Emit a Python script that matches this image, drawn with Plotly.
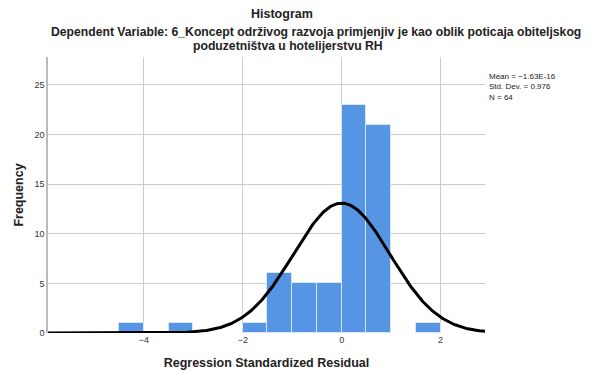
import numpy as np
import plotly.graph_objects as go

# Histogram bins (left edges, width 0.5) and counts
bin_left = [-4.5, -3.5, -2.0, -1.5, -1.0, -0.5, 0.0, 0.5, 1.5]
counts = [1, 1, 1, 6, 5, 5, 23, 21, 1]
bin_width = 0.5

mean_val = -1.63e-16
std_val = 0.976
n_val = 64

x_ticks = [-4, -2, 0, 2]
x_tick_text = ["−4", "−2", "0", "2"]
y_ticks = [0, 5, 10, 15, 20, 25]

centers = [b + bin_width / 2 for b in bin_left]

xs = np.linspace(-6, 3, 400)
ys = n_val * bin_width * np.exp(-0.5 * ((xs - mean_val) / std_val) ** 2) / (std_val * np.sqrt(2 * np.pi))

fig = go.Figure()
fig.add_trace(go.Bar(x=centers, y=counts, width=bin_width,
                     marker=dict(color="#5694E4", line=dict(color="#D6E6F8", width=1)),
                     showlegend=False, hoverinfo="skip"))
fig.add_trace(go.Scatter(x=xs, y=ys, mode="lines", line=dict(color="black", width=3),
                         showlegend=False, hoverinfo="skip", cliponaxis=True))

font_main = "Liberation Sans, Arial, sans-serif"
# page body has an 8px default margin, so the figure is offset by 8px
fig.update_layout(
    width=590, height=364,
    margin=dict(l=40, r=113, t=49, b=39, autoexpand=False),
    paper_bgcolor="white", plot_bgcolor="white",
    bargap=0,
    font=dict(family=font_main, color="#222"),
    xaxis=dict(range=[-5.94, 2.9], tickvals=x_ticks, ticktext=x_tick_text, automargin=False,
               showgrid=True, gridcolor="#CCCCCC", gridwidth=1, zeroline=False,
               showline=False, ticks="", tickfont=dict(size=9, color="#333"),
               title=dict(text="<b>Regression Standardized Residual</b>", font=dict(size=12.5, color="#222"), standoff=14)),
    yaxis=dict(range=[0, 27.8], tickvals=y_ticks, showgrid=True, gridcolor="#CCCCCC", gridwidth=1,
               automargin=False,
               zeroline=False, showline=True, linecolor="#BBBBBB", linewidth=1.5, ticks="",
               tickfont=dict(size=9, color="#333"),
               title=dict(text="<b>Frequency</b>", font=dict(size=12.5, color="#222"), standoff=8)),
    annotations=[
        dict(text="<b>Histogram</b>", xref="paper", yref="paper", x=0.535, y=1.0, yshift=43,
             xanchor="center", yanchor="middle", showarrow=False, font=dict(size=12.5, color="#222")),
        dict(text="<b>Dependent Variable: 6_Koncept održivog razvoja primjenjiv je kao oblik poticaja obiteljskog</b>",
             xref="paper", yref="paper", x=0.613, y=1.0, yshift=25, xanchor="center", yanchor="middle",
             showarrow=False, font=dict(size=12.2, color="#222")),
        dict(text="<b>poduzetništva u hotelijerstvu RH</b>",
             xref="paper", yref="paper", x=0.549, y=1.0, yshift=11, xanchor="center", yanchor="middle",
             showarrow=False, font=dict(size=12.2, color="#222")),
        dict(text="Mean = −1.63E-16<br>Std. Dev. = 0.976<br>N = " + str(n_val),
             xref="paper", yref="paper", x=1.0, xshift=2, y=1.0, yshift=-13, xanchor="left", yanchor="top",
             align="left", showarrow=False, font=dict(size=8, color="#222")),
    ],
)

fig.write_html("out.html")
